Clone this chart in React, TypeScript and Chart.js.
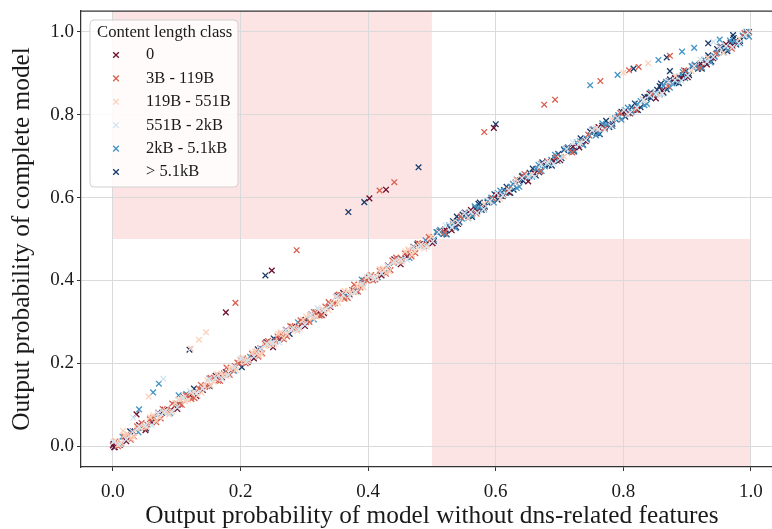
import React, { useEffect, useRef } from 'react';
import { Chart, registerables } from 'chart.js';

Chart.register(...registerables);

// ---------- data ----------
const classLabels = ['0', '3B - 119B', '119B - 551B', '551B - 2kB', '2kB - 5.1kB', '> 5.1kB'];
const classColors = ['#6e0f2e', '#d9604f', '#fbd0b9', '#d1e5f0', '#4393c3', '#16396b'];
const xTickValues = [0.0, 0.2, 0.4, 0.6, 0.8, 1.0];
const yTickValues = [0.0, 0.2, 0.4, 0.6, 0.8, 1.0];
const xTitle = 'Output probability of model without dns-related features';
const yTitle = 'Output probability of complete model';
const legendTitle = 'Content length class';
// shaded regions [xMin, xMax, yMin, yMax] (null = axis edge)
const shadedRegions: (number | null)[][] = [
  [0.0, 0.5, 0.5, null],
  [0.5, 1.0, null, 0.5],
];

// class "0"
const class0: number[][] = [
  [0.000, 0.002], [0.003, -0.002],
  [0.001, 0.006], [0.021, 0.012], [0.041, 0.051], [0.061, 0.058], [0.081, 0.088], [0.101, 0.090], [0.121, 0.123], [0.141, 0.136], [0.161, 0.170], [0.181, 0.174],
  [0.201, 0.206], [0.221, 0.212], [0.241, 0.251], [0.261, 0.258], [0.281, 0.288], [0.301, 0.290], [0.321, 0.323], [0.341, 0.336], [0.361, 0.370], [0.381, 0.374],
  [0.401, 0.406], [0.421, 0.412], [0.441, 0.451], [0.461, 0.458], [0.481, 0.488], [0.501, 0.490], [0.521, 0.523], [0.541, 0.536], [0.561, 0.570], [0.581, 0.574],
  [0.601, 0.606], [0.621, 0.612], [0.641, 0.651], [0.661, 0.658], [0.681, 0.688], [0.701, 0.690], [0.721, 0.723], [0.741, 0.736], [0.761, 0.770], [0.781, 0.774],
  [0.801, 0.806], [0.821, 0.812], [0.841, 0.851], [0.861, 0.858], [0.881, 0.888], [0.901, 0.890], [0.921, 0.923], [0.941, 0.936], [0.961, 0.970], [0.981, 0.974],
  [0.037, 0.077], [0.177, 0.323], [0.249, 0.424], [0.402, 0.598], [0.428, 0.619], [0.597, 0.768],
];
const class0Extra: number[][] = [
  [0.011, 0.003], [0.031, 0.036], [0.051, 0.039], [0.071, 0.081], [0.091, 0.088], [0.111, 0.118], [0.131, 0.121], [0.151, 0.163], [0.171, 0.166], [0.191, 0.193],
  [0.211, 0.203], [0.231, 0.236], [0.251, 0.239], [0.271, 0.281], [0.291, 0.288], [0.311, 0.318], [0.331, 0.321], [0.351, 0.363], [0.371, 0.366], [0.391, 0.393],
  [0.411, 0.403], [0.431, 0.436], [0.451, 0.439], [0.471, 0.481], [0.491, 0.488], [0.511, 0.518], [0.531, 0.521], [0.551, 0.563], [0.571, 0.566], [0.591, 0.593],
  [0.611, 0.603], [0.631, 0.636], [0.651, 0.639], [0.671, 0.681], [0.691, 0.688], [0.711, 0.718], [0.731, 0.721], [0.751, 0.763], [0.771, 0.766], [0.791, 0.793],
  [0.811, 0.803], [0.831, 0.836], [0.851, 0.839], [0.871, 0.881], [0.891, 0.888], [0.911, 0.918], [0.931, 0.921], [0.951, 0.963], [0.971, 0.966], [0.991, 0.993],
];

// class "3B - 119B"
const class1: number[][] = [
  [0.004, 0.012], [0.013, 0.007], [0.024, 0.027], [0.033, 0.023], [0.045, 0.056], [0.054, 0.052], [0.063, 0.069], [0.075, 0.067], [0.084, 0.085], [0.093, 0.103],
  [0.105, 0.101], [0.114, 0.123], [0.123, 0.114], [0.135, 0.139], [0.144, 0.143], [0.153, 0.165], [0.165, 0.158], [0.174, 0.176], [0.183, 0.172], [0.195, 0.202],
  [0.204, 0.212], [0.213, 0.207], [0.225, 0.228], [0.234, 0.224], [0.243, 0.254], [0.255, 0.253], [0.264, 0.270], [0.273, 0.265], [0.285, 0.286], [0.294, 0.304],
  [0.303, 0.299], [0.315, 0.324], [0.324, 0.315], [0.333, 0.337], [0.345, 0.344], [0.354, 0.366], [0.363, 0.356], [0.375, 0.377], [0.384, 0.373], [0.393, 0.400],
  [0.405, 0.413], [0.414, 0.408], [0.423, 0.426], [0.435, 0.425], [0.444, 0.455], [0.453, 0.451], [0.465, 0.471], [0.474, 0.466], [0.483, 0.484], [0.495, 0.505],
  [0.520, 0.516], [0.545, 0.554], [0.570, 0.561], [0.595, 0.599], [0.620, 0.619], [0.645, 0.657], [0.670, 0.663], [0.695, 0.697], [0.720, 0.709], [0.745, 0.752],
  [0.770, 0.766], [0.795, 0.804], [0.820, 0.811], [0.845, 0.849], [0.870, 0.869], [0.895, 0.907], [0.920, 0.913], [0.945, 0.947], [0.970, 0.959], [0.990, 0.997],
  [0.192, 0.346], [0.288, 0.473], [0.418, 0.617], [0.441, 0.637], [0.582, 0.758], [0.676, 0.824],
  [0.693, 0.836], [0.764, 0.881], [0.809, 0.907], [0.824, 0.915], [0.873, 0.942],
];
const class1Extra: number[][] = [
  [0.008, 0.000], [0.018, 0.023], [0.028, 0.016], [0.038, 0.048], [0.048, 0.045], [0.058, 0.065], [0.068, 0.058], [0.078, 0.090], [0.088, 0.083], [0.098, 0.100],
  [0.108, 0.100], [0.118, 0.123], [0.128, 0.116], [0.138, 0.148], [0.148, 0.145], [0.158, 0.165], [0.168, 0.158], [0.178, 0.190], [0.188, 0.183], [0.198, 0.200],
  [0.208, 0.200], [0.218, 0.223], [0.228, 0.216], [0.238, 0.248], [0.248, 0.245], [0.258, 0.265], [0.268, 0.258], [0.278, 0.290], [0.288, 0.283], [0.298, 0.300],
  [0.308, 0.300], [0.318, 0.323], [0.328, 0.316], [0.338, 0.348], [0.348, 0.345], [0.358, 0.365], [0.368, 0.358], [0.378, 0.390], [0.388, 0.383], [0.398, 0.400],
  [0.408, 0.400], [0.418, 0.423], [0.428, 0.416], [0.438, 0.448], [0.448, 0.445], [0.458, 0.465], [0.468, 0.458], [0.478, 0.490], [0.488, 0.483], [0.498, 0.500],
];

// class "119B - 551B"
const class2: number[][] = [
  [0.008, 0.004], [0.018, 0.027], [0.028, 0.019], [0.038, 0.042], [0.049, 0.048], [0.058, 0.070], [0.068, 0.061], [0.079, 0.081], [0.088, 0.077], [0.098, 0.105],
  [0.109, 0.117], [0.118, 0.112], [0.128, 0.131], [0.139, 0.129], [0.148, 0.159], [0.158, 0.156], [0.169, 0.175], [0.178, 0.170], [0.188, 0.189], [0.199, 0.209],
  [0.208, 0.204], [0.218, 0.227], [0.229, 0.220], [0.238, 0.242], [0.248, 0.247], [0.259, 0.271], [0.268, 0.261], [0.278, 0.280], [0.289, 0.278], [0.298, 0.305],
  [0.308, 0.316], [0.319, 0.313], [0.328, 0.331], [0.338, 0.328], [0.349, 0.360], [0.358, 0.356], [0.368, 0.374], [0.379, 0.371], [0.388, 0.389], [0.398, 0.408],
  [0.409, 0.405], [0.418, 0.427], [0.428, 0.419], [0.439, 0.443], [0.448, 0.447], [0.458, 0.470], [0.469, 0.462], [0.478, 0.480], [0.488, 0.477], [0.499, 0.506],
  [0.532, 0.540], [0.557, 0.551], [0.582, 0.585], [0.607, 0.597], [0.632, 0.643], [0.657, 0.655], [0.682, 0.688], [0.707, 0.699], [0.732, 0.733], [0.757, 0.767],
  [0.782, 0.790], [0.807, 0.801], [0.832, 0.835], [0.857, 0.847], [0.882, 0.893], [0.907, 0.905], [0.932, 0.938], [0.957, 0.949], [0.982, 0.983], [0.996, 0.998],
  [0.016, 0.037], [0.056, 0.120], [0.122, 0.236], [0.135, 0.257], [0.146, 0.275], [0.800, 0.901],
  [0.839, 0.924],
];
const class2Extra: number[][] = [
  [0.003, 0.013], [0.013, 0.009], [0.023, 0.029], [0.033, 0.022], [0.043, 0.045], [0.053, 0.046], [0.063, 0.075], [0.073, 0.071], [0.083, 0.087], [0.093, 0.084],
  [0.103, 0.113], [0.113, 0.109], [0.123, 0.129], [0.133, 0.122], [0.143, 0.145], [0.153, 0.146], [0.163, 0.175], [0.173, 0.171], [0.183, 0.187], [0.193, 0.184],
  [0.203, 0.213], [0.213, 0.209], [0.223, 0.229], [0.233, 0.222], [0.243, 0.245], [0.253, 0.246], [0.263, 0.275], [0.273, 0.271], [0.283, 0.287], [0.293, 0.284],
  [0.303, 0.313], [0.313, 0.309], [0.323, 0.329], [0.333, 0.322], [0.343, 0.345], [0.353, 0.346], [0.363, 0.375], [0.373, 0.371], [0.383, 0.387], [0.393, 0.384],
  [0.403, 0.413], [0.413, 0.409], [0.423, 0.429], [0.433, 0.422], [0.443, 0.445], [0.453, 0.446], [0.463, 0.475], [0.473, 0.471], [0.483, 0.487], [0.493, 0.484],
];

// class "551B - 2kB"
const class3: number[][] = [
  [0.011, 0.005], [0.031, 0.035], [0.051, 0.050], [0.071, 0.080], [0.091, 0.081], [0.111, 0.117], [0.131, 0.128], [0.151, 0.162], [0.171, 0.163], [0.191, 0.192],
  [0.211, 0.205], [0.231, 0.235], [0.251, 0.250], [0.271, 0.280], [0.291, 0.281], [0.311, 0.317], [0.331, 0.328], [0.351, 0.362], [0.371, 0.363], [0.391, 0.392],
  [0.411, 0.405], [0.431, 0.435], [0.451, 0.450], [0.471, 0.480], [0.491, 0.481], [0.511, 0.517], [0.531, 0.528], [0.551, 0.562], [0.571, 0.563], [0.591, 0.592],
  [0.611, 0.605], [0.631, 0.635], [0.651, 0.650], [0.671, 0.680], [0.691, 0.681], [0.711, 0.717], [0.731, 0.728], [0.751, 0.762], [0.771, 0.763], [0.791, 0.792],
  [0.811, 0.805], [0.831, 0.835], [0.851, 0.850], [0.871, 0.880], [0.891, 0.881], [0.911, 0.917], [0.931, 0.928], [0.951, 0.962], [0.971, 0.963], [0.991, 0.992],
  [0.032, 0.069], [0.079, 0.163], [0.941, 0.976],
];
const class3Extra: number[][] = [
  [0.001, 0.011], [0.021, 0.017], [0.041, 0.047], [0.061, 0.050], [0.081, 0.083], [0.101, 0.094], [0.121, 0.133], [0.141, 0.139], [0.161, 0.165], [0.181, 0.172],
  [0.201, 0.211], [0.221, 0.217], [0.241, 0.247], [0.261, 0.250], [0.281, 0.283], [0.301, 0.294], [0.321, 0.333], [0.341, 0.339], [0.361, 0.365], [0.381, 0.372],
  [0.401, 0.411], [0.421, 0.417], [0.441, 0.447], [0.461, 0.450], [0.481, 0.483], [0.501, 0.494], [0.521, 0.533], [0.541, 0.539], [0.561, 0.565], [0.581, 0.572],
  [0.601, 0.611], [0.621, 0.617], [0.641, 0.647], [0.661, 0.650], [0.681, 0.683], [0.701, 0.694], [0.721, 0.733], [0.741, 0.739], [0.761, 0.765], [0.781, 0.772],
  [0.801, 0.811], [0.821, 0.817], [0.841, 0.847], [0.861, 0.850], [0.881, 0.883], [0.901, 0.894], [0.921, 0.933], [0.941, 0.939], [0.961, 0.965], [0.981, 0.972],
];

// class "2kB - 5.1kB"
const class4: number[][] = [
  [0.015, 0.023], [0.040, 0.034], [0.065, 0.068], [0.090, 0.080], [0.115, 0.126], [0.140, 0.138], [0.165, 0.171], [0.190, 0.182], [0.215, 0.216], [0.240, 0.250],
  [0.265, 0.261], [0.290, 0.299], [0.315, 0.306], [0.340, 0.344], [0.365, 0.364], [0.390, 0.402], [0.415, 0.408], [0.440, 0.442], [0.465, 0.454], [0.490, 0.497],
  [0.503, 0.499], [0.513, 0.522], [0.522, 0.513], [0.533, 0.537], [0.543, 0.542], [0.552, 0.564], [0.563, 0.556], [0.573, 0.575], [0.582, 0.571], [0.593, 0.600],
  [0.603, 0.611], [0.612, 0.606], [0.623, 0.626], [0.633, 0.623], [0.642, 0.653], [0.653, 0.651], [0.663, 0.669], [0.672, 0.664], [0.683, 0.684], [0.693, 0.703],
  [0.702, 0.698], [0.713, 0.722], [0.723, 0.714], [0.732, 0.736], [0.743, 0.742], [0.753, 0.765], [0.762, 0.755], [0.773, 0.775], [0.783, 0.772], [0.792, 0.799],
  [0.803, 0.811], [0.813, 0.807], [0.822, 0.825], [0.833, 0.823], [0.843, 0.854], [0.852, 0.850], [0.863, 0.869], [0.873, 0.865], [0.882, 0.883], [0.893, 0.903],
  [0.903, 0.899], [0.912, 0.921], [0.923, 0.914], [0.933, 0.937], [0.942, 0.941], [0.953, 0.965], [0.963, 0.956], [0.972, 0.974], [0.983, 0.972], [0.993, 1.000],
  [0.041, 0.089], [0.063, 0.130], [0.072, 0.151], [0.103, 0.123], [0.748, 0.871], [0.791, 0.896],
  [0.855, 0.932], [0.892, 0.952], [0.911, 0.961], [0.951, 0.981],
];
const class4Extra: number[][] = [
  [0.507, 0.517], [0.517, 0.513], [0.527, 0.533], [0.537, 0.526], [0.547, 0.549], [0.557, 0.550], [0.567, 0.579], [0.577, 0.575], [0.587, 0.591], [0.597, 0.588],
  [0.607, 0.617], [0.617, 0.613], [0.627, 0.633], [0.637, 0.626], [0.647, 0.649], [0.657, 0.650], [0.667, 0.679], [0.677, 0.675], [0.687, 0.691], [0.697, 0.688],
  [0.707, 0.717], [0.717, 0.713], [0.727, 0.733], [0.737, 0.726], [0.747, 0.749], [0.757, 0.750], [0.767, 0.779], [0.777, 0.775], [0.787, 0.791], [0.797, 0.788],
  [0.807, 0.817], [0.817, 0.813], [0.827, 0.833], [0.837, 0.826], [0.847, 0.849], [0.857, 0.850], [0.867, 0.879], [0.877, 0.875], [0.887, 0.891], [0.897, 0.888],
  [0.907, 0.917], [0.917, 0.913], [0.927, 0.933], [0.937, 0.926], [0.947, 0.949], [0.957, 0.950], [0.967, 0.979], [0.977, 0.975], [0.987, 0.991], [0.997, 0.988],
];

// class "> 5.1kB"
const class5: number[][] = [
  [0.002, -0.002], [0.027, 0.036], [0.052, 0.043], [0.077, 0.081], [0.102, 0.101], [0.127, 0.139], [0.152, 0.145], [0.177, 0.179], [0.202, 0.191], [0.227, 0.234],
  [0.252, 0.260], [0.277, 0.271], [0.302, 0.305], [0.327, 0.317], [0.352, 0.363], [0.377, 0.375], [0.402, 0.408], [0.427, 0.419], [0.452, 0.453], [0.477, 0.487],
  [0.508, 0.516], [0.518, 0.512], [0.527, 0.530], [0.538, 0.528], [0.548, 0.559], [0.557, 0.555], [0.568, 0.574], [0.578, 0.570], [0.587, 0.588], [0.598, 0.608],
  [0.608, 0.604], [0.617, 0.626], [0.628, 0.619], [0.638, 0.642], [0.647, 0.646], [0.658, 0.670], [0.668, 0.661], [0.677, 0.679], [0.688, 0.677], [0.698, 0.705],
  [0.707, 0.715], [0.718, 0.712], [0.728, 0.731], [0.737, 0.727], [0.748, 0.759], [0.758, 0.756], [0.767, 0.773], [0.778, 0.770], [0.788, 0.789], [0.797, 0.807],
  [0.808, 0.804], [0.818, 0.827], [0.827, 0.818], [0.838, 0.842], [0.848, 0.847], [0.857, 0.869], [0.868, 0.861], [0.878, 0.880], [0.887, 0.876], [0.898, 0.905],
  [0.908, 0.916], [0.917, 0.911], [0.928, 0.931], [0.938, 0.928], [0.947, 0.958], [0.958, 0.956], [0.968, 0.974], [0.977, 0.969], [0.988, 0.989], [0.997, 0.999],
  [0.539, 0.554], [0.575, 0.588],
  [0.120, 0.233], [0.239, 0.412], [0.369, 0.565], [0.394, 0.589], [0.479, 0.673], [0.600, 0.777],
  [0.816, 0.911], [0.868, 0.938], [0.873, 0.905], [0.933, 0.972], [0.972, 0.992], [0.859, 0.875],
];
const class5Extra: number[][] = [
  [0.503, 0.495], [0.513, 0.518], [0.523, 0.511], [0.533, 0.543], [0.543, 0.540], [0.553, 0.560], [0.563, 0.553], [0.573, 0.585], [0.583, 0.578], [0.593, 0.595],
  [0.603, 0.595], [0.613, 0.618], [0.623, 0.611], [0.633, 0.643], [0.643, 0.640], [0.653, 0.660], [0.663, 0.653], [0.673, 0.685], [0.683, 0.678], [0.693, 0.695],
  [0.703, 0.695], [0.713, 0.718], [0.723, 0.711], [0.733, 0.743], [0.743, 0.740], [0.753, 0.760], [0.763, 0.753], [0.773, 0.785], [0.783, 0.778], [0.793, 0.795],
  [0.803, 0.795], [0.813, 0.818], [0.823, 0.811], [0.833, 0.843], [0.843, 0.840], [0.853, 0.860], [0.863, 0.853], [0.873, 0.885], [0.883, 0.878], [0.893, 0.895],
  [0.903, 0.895], [0.913, 0.918], [0.923, 0.911], [0.933, 0.943], [0.943, 0.940], [0.953, 0.960], [0.963, 0.953], [0.973, 0.985], [0.983, 0.978], [0.993, 0.995],
];

const classData = [
  class0.concat(class0Extra),
  class1.concat(class1Extra),
  class2.concat(class2Extra),
  class3.concat(class3Extra),
  class4.concat(class4Extra),
  class5.concat(class5Extra),
];
// draw order (bottom -> top)
const drawOrder = [3, 2, 1, 0, 4, 5];

// ---------- style ----------
const FONT = "'Liberation Serif', 'Times New Roman', serif";
const MARKER_R = 4;
const MARKER_W = 1.3;

function drawCross(ctx: CanvasRenderingContext2D, x: number, y: number, r: number, color: string) {
  const d = r * Math.SQRT1_2;
  ctx.save();
  ctx.strokeStyle = color;
  ctx.lineWidth = MARKER_W;
  ctx.beginPath();
  ctx.moveTo(x - d, y - d);
  ctx.lineTo(x + d, y + d);
  ctx.moveTo(x + d, y - d);
  ctx.lineTo(x - d, y + d);
  ctx.stroke();
  ctx.restore();
}

const decorPlugin = {
  id: 'decor',
  beforeDraw(chart: any) {
    const { ctx, chartArea, scales } = chart;
    const xs = scales.x;
    const ys = scales.y;
    ctx.save();
    ctx.fillStyle = '#fde4e4';
    for (const r of shadedRegions) {
      const x0 = xs.getPixelForValue(r[0] as number);
      const x1 = xs.getPixelForValue(r[1] as number);
      const yb = r[2] === null ? chartArea.bottom : ys.getPixelForValue(r[2]);
      const yt = r[3] === null ? chartArea.top : ys.getPixelForValue(r[3]);
      ctx.fillRect(x0, yt, x1 - x0, yb - yt);
    }
    ctx.restore();
  },
  afterDraw(chart: any) {
    const { ctx, chartArea, scales } = chart;
    const xs = scales.x;
    ctx.save();
    // top spine
    ctx.strokeStyle = '#333333';
    ctx.lineWidth = 1.25;
    ctx.beginPath();
    ctx.moveTo(chartArea.left, chartArea.top);
    ctx.lineTo(chartArea.right, chartArea.top);
    ctx.stroke();

    // axis titles
    ctx.fillStyle = '#1a1a1a';
    ctx.textAlign = 'center';
    ctx.textBaseline = 'middle';
    ctx.font = `25.3px ${FONT}`;
    ctx.fillText(xTitle, xs.getPixelForValue(0.5), 516);
    ctx.save();
    ctx.font = `25.3px ${FONT}`;
    ctx.translate(22, (chartArea.top + chartArea.bottom) / 2);
    ctx.rotate(-Math.PI / 2);
    ctx.fillText(yTitle, 0, 0);
    ctx.restore();

    // legend
    const bx = 90, by = 20, bw = 148, bh = 167, rad = 4;
    ctx.beginPath();
    ctx.moveTo(bx + rad, by);
    ctx.arcTo(bx + bw, by, bx + bw, by + bh, rad);
    ctx.arcTo(bx + bw, by + bh, bx, by + bh, rad);
    ctx.arcTo(bx, by + bh, bx, by, rad);
    ctx.arcTo(bx, by, bx + bw, by, rad);
    ctx.closePath();
    ctx.fillStyle = 'rgba(255,255,255,0.85)';
    ctx.fill();
    ctx.strokeStyle = '#d0d0d0';
    ctx.lineWidth = 1;
    ctx.stroke();

    ctx.fillStyle = '#1a1a1a';
    ctx.textAlign = 'left';
    ctx.textBaseline = 'middle';
    ctx.font = `16.7px ${FONT}`;
    ctx.fillText(legendTitle, 97, 33);
    ctx.font = `16.5px ${FONT}`;
    classLabels.forEach((lab, i) => {
      const yy = 55 + i * 23.4;
      drawCross(ctx, 116, yy, MARKER_R, classColors[i]);
      ctx.fillStyle = '#1a1a1a';
      ctx.fillText(lab, 146, yy);
    });
    ctx.restore();
  },
};

export default function App() {
  const ref = useRef<HTMLCanvasElement | null>(null);

  useEffect(() => {
    document.body.style.margin = '0';
    const canvas = ref.current;
    if (!canvas) return;

    const datasets = drawOrder.map((ci) => ({
      label: classLabels[ci],
      data: classData[ci].map((p) => ({ x: p[0], y: p[1] })),
      pointStyle: 'crossRot' as const,
      pointRadius: MARKER_R,
      pointBorderWidth: MARKER_W,
      borderWidth: 0,
      borderColor: classColors[ci],
      backgroundColor: classColors[ci],
      showLine: false,
    }));

    const gridCommon = {
      color: '#dadada',
      lineWidth: 1,
      tickColor: '#333333',
      tickLength: 4,
      drawOnChartArea: true,
    };

    const chart = new Chart(canvas, {
      type: 'scatter',
      data: { datasets },
      plugins: [decorPlugin],
      options: {
        animation: false,
        responsive: false,
        devicePixelRatio: 1,
        events: [],
        layout: { autoPadding: false, padding: { left: 0, top: 11, right: 0, bottom: 0 } },
        plugins: {
          legend: { display: false },
          tooltip: { enabled: false },
        },
        scales: {
          x: {
            type: 'linear',
            min: -0.05,
            max: 1.033,
            grid: gridCommon,
            border: { color: '#333333', width: 1.25 },
            ticks: {
              color: '#1a1a1a',
              font: { family: FONT, size: 19 },
              padding: 10,
              maxRotation: 0,
              callback: (v: any) => Number(v).toFixed(1),
            },
            afterBuildTicks: (scale: any) => {
              scale.ticks = xTickValues.map((v) => ({ value: v }));
            },
            afterFit: (scale: any) => {
              scale.height = 62;
              scale.paddingLeft = 0;
              scale.paddingRight = 0;
            },
          },
          y: {
            type: 'linear',
            min: -0.05,
            max: 1.05,
            grid: gridCommon,
            border: { color: '#333333', width: 1.25 },
            ticks: {
              color: '#1a1a1a',
              font: { family: FONT, size: 19 },
              padding: 3,
              callback: (v: any) => Number(v).toFixed(1),
            },
            afterBuildTicks: (scale: any) => {
              scale.ticks = yTickValues.map((v) => ({ value: v }));
            },
            afterFit: (scale: any) => {
              scale.width = 81;
              scale.paddingTop = 0;
              scale.paddingBottom = 0;
            },
          },
        },
      },
    });

    return () => chart.destroy();
  }, []);

  return (
    <div style={{ width: 772, height: 529 }}>
      <canvas ref={ref} width={772} height={529} style={{ display: 'block' }} />
    </div>
  );
}
